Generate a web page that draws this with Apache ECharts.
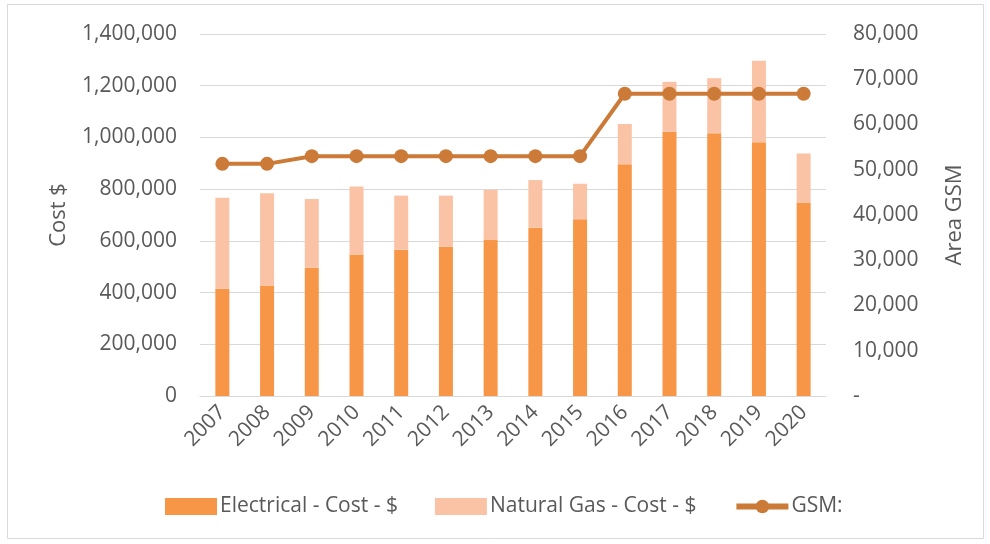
<!DOCTYPE html>
<html><head><meta charset="utf-8">
<script src="https://cdn.jsdelivr.net/npm/echarts@6/dist/echarts.min.js"></script>
<style>html,body{margin:0;padding:0;background:#fff}#c{width:990px;height:544px}</style>
</head><body><div id="c"></div>
<script>
var years = ['2007','2008','2009','2010','2011','2012','2013','2014','2015','2016','2017','2018','2019','2020'];
var electrical = [415000,427000,496000,547000,566000,577000,603000,651000,684000,896000,1022000,1016000,981000,748000];
var naturalGas = [352000,357000,266000,263000,209000,198000,194000,184000,137000,156000,193000,213000,316000,190000];
var gsm = [51300,51300,53000,53000,53000,53000,53000,53000,53000,66800,66800,66800,66800,66800];

var FONT = '"Open Sans", sans-serif';
var TXT = '#595959';
var chart = echarts.init(document.getElementById('c'));
function fmt(v){ return v === 0 ? '-' : v.toLocaleString('en-US'); }
chart.setOption({
  animation: false,
  textStyle: {fontFamily: FONT},
  graphic: [{type:'rect', shape:{x:7.5,y:4.5,width:976,height:534}, style:{fill:'none', stroke:'#d9d9d9', lineWidth:1}, silent:true}],
  grid: {left: 200, right: 164, top: 34, bottom: 148},
  legend: {
    top: 491, left: 160, itemGap: 37, itemWidth: 52, itemHeight: 17,
    textStyle: {color: TXT, fontSize: 21, fontFamily: FONT, padding: [0,0,0,-2]},
    data: [
      {name:'Electrical - Cost - $', icon:'rect'},
      {name:'Natural Gas - Cost - $', icon:'rect'},
      {name:'GSM:', lineStyle:{width:6}}
    ]
  },
  xAxis: {
    type: 'category', data: years,
    axisLine: {lineStyle: {color: '#d9d9d9', width: 1}},
    axisTick: {show: false},
    axisLabel: {color: TXT, fontSize: 21, rotate: 45, margin: 13, fontFamily: FONT}
  },
  yAxis: [{
    type: 'value', min: 0, max: 1400000, interval: 200000,
    name: 'Cost $', nameLocation: 'middle', nameGap: 130, nameRotate: 90,
    nameTextStyle: {color: TXT, fontSize: 22, fontFamily: FONT},
    axisLabel: {color: TXT, fontSize: 21, margin: 23, formatter: function(v){return v.toLocaleString('en-US');}},
    splitLine: {lineStyle: {color: '#d9d9d9', width: 1}},
    axisLine: {show: false}, axisTick: {show: false}
  },{
    type: 'value', min: 0, max: 80000, interval: 10000,
    name: 'Area GSM', nameLocation: 'middle', nameGap: 118, nameRotate: 90,
    nameTextStyle: {color: TXT, fontSize: 22, fontFamily: FONT},
    axisLabel: {color: TXT, fontSize: 21, margin: 27, formatter: fmt},
    splitLine: {show: false},
    axisLine: {show: false}, axisTick: {show: false}
  }],
  series: [
    {name:'Electrical - Cost - $', type:'bar', stack:'cost', data: electrical, barWidth: 14,
     itemStyle:{color:'#F79646'}},
    {name:'Natural Gas - Cost - $', type:'bar', stack:'cost', data: naturalGas, barWidth: 14,
     itemStyle:{color:'#FAC3A6'}},
    {name:'GSM:', type:'line', yAxisIndex: 1, data: gsm, symbol:'circle', symbolSize: 14,
     lineStyle:{color:'#CB7A38', width: 4}, itemStyle:{color:'#CB7A38'}}
  ]
});
</script></body></html>
